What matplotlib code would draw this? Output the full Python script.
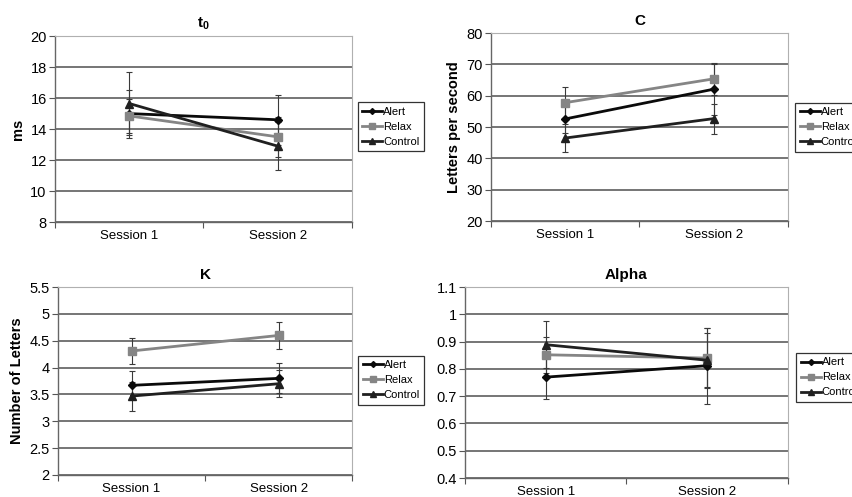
import matplotlib
matplotlib.use('Agg')
import matplotlib.pyplot as plt
import numpy as np

plt.rcParams['font.family'] = ['Liberation Sans', 'DejaVu Sans']
plt.rcParams['mathtext.fontset'] = 'custom'
plt.rcParams['mathtext.rm'] = 'Liberation Sans'
plt.rcParams['mathtext.bf'] = 'Liberation Sans:bold'

sessions = ['Session 1', 'Session 2']
groups = ['Alert', 'Relax', 'Control']

# t0 (ms)
t0_alert = [15.0, 14.6]
t0_relax = [14.85, 13.5]
t0_control = [15.65, 12.9]
t0_alert_err = [1.55, 1.6]
t0_relax_err = [1.1, 1.3]
t0_control_err = [2.05, 1.55]

# C (letters per second)
c_alert = [52.6, 62.1]
c_relax = [57.8, 65.4]
c_control = [46.5, 52.7]
c_alert_err = [4.5, 8.2]
c_relax_err = [5.0, 5.0]
c_control_err = [4.4, 4.8]

# K (number of letters)
k_alert = [3.67, 3.80]
k_relax = [4.31, 4.60]
k_control = [3.47, 3.70]
k_alert_err = [0.26, 0.28]
k_relax_err = [0.25, 0.25]
k_control_err = [0.27, 0.25]

# Alpha
a_alert = [0.77, 0.812]
a_relax = [0.852, 0.84]
a_control = [0.889, 0.832]
a_alert_err = [0.08, 0.14]
a_relax_err = [0.066, 0.11]
a_control_err = [0.087, 0.10]

colors = ['#0a0a0a', '#858585', '#202020']
markers = ['D', 's', '^']
msizes = [4, 6, 6]

panels = [
    ('t$_\\mathbf{0}$', 'ms', (8, 20), np.arange(8, 21, 2),
     [t0_alert, t0_relax, t0_control], [t0_alert_err, t0_relax_err, t0_control_err],
     [0.0645, 0.5533, 0.348, 0.374], (1.02, 0.645), '%g'),
    ('C', 'Letters per second', (20, 80), np.arange(20, 81, 10),
     [c_alert, c_relax, c_control], [c_alert_err, c_relax_err, c_control_err],
     [0.5756, 0.5553, 0.348, 0.378], (1.025, 0.63), '%g'),
    ('K', 'Number of Letters', (2, 5.5), np.arange(2, 5.51, 0.5),
     [k_alert, k_relax, k_control], [k_alert_err, k_relax_err, k_control_err],
     [0.068, 0.0443, 0.345, 0.378], (1.02, 0.635), '%g'),
    ('Alpha', '', (0.4, 1.1), np.arange(0.4, 1.101, 0.1),
     [a_alert, a_relax, a_control], [a_alert_err, a_relax_err, a_control_err],
     [0.5451, 0.0382, 0.3787, 0.384], (1.025, 0.655), '%.1f'),
]

fig = plt.figure(figsize=(8.53, 4.97), dpi=100)
x = np.array([0.5, 1.5])

for title, ylabel, ylim, yticks, series, errs, rect, leg_pos, fmt in panels:
    ax = fig.add_axes(rect)
    for vals, err, name, c, m, ms in zip(series, errs, groups, colors, markers, msizes):
        ax.errorbar(x, vals, yerr=err, fmt='none', ecolor='#3a3a3a',
                    elinewidth=0.8, capsize=2.5, capthick=0.8, zorder=3)
        ax.plot(x, vals, color=c, marker=m, markersize=ms, linewidth=2,
                label=name, zorder=4)
    ax.set_xlim(0, 2)
    ax.set_ylim(*ylim)
    ax.set_yticks(yticks)
    labels = []
    for v in yticks:
        if abs(v - 1) < 1e-9:
            labels.append('1')
        else:
            labels.append(fmt % round(v, 2))
    ax.set_yticklabels(labels)
    ax.yaxis.grid(True, color='#6a6a6a', linewidth=1.3)
    ax.set_axisbelow(True)
    ax.set_xticks([0, 1, 2])
    ax.set_xticklabels([])
    ax.set_xticks(x, minor=True)
    ax.set_xticklabels(sessions, minor=True, fontsize=9.5)
    ax.tick_params(axis='x', which='minor', length=0, pad=6)
    ax.tick_params(axis='x', which='major', length=4, color='#555555')
    ax.tick_params(axis='y', length=4, labelsize=10.5, color='#555555', pad=2)
    for s in ['top', 'right']:
        ax.spines[s].set_color('#b0b0b0')
        ax.spines[s].set_linewidth(0.8)
    for s in ['left', 'bottom']:
        ax.spines[s].set_color('#666666')
        ax.spines[s].set_linewidth(1.0)
    ax.set_title(title, fontsize=11, fontweight='bold', pad=6)
    if ylabel:
        ax.set_ylabel(ylabel, fontsize=10.5, fontweight='bold', labelpad=4)
    leg = ax.legend(loc='upper left', bbox_to_anchor=leg_pos, fontsize=8,
                    frameon=True, fancybox=False, edgecolor='black',
                    handlelength=1.8, handletextpad=0.1, borderpad=0.4,
                    labelspacing=0.45, borderaxespad=0, markerscale=0.75)
    leg.get_frame().set_linewidth(0.9)

fig.savefig('out.png', dpi=100)
